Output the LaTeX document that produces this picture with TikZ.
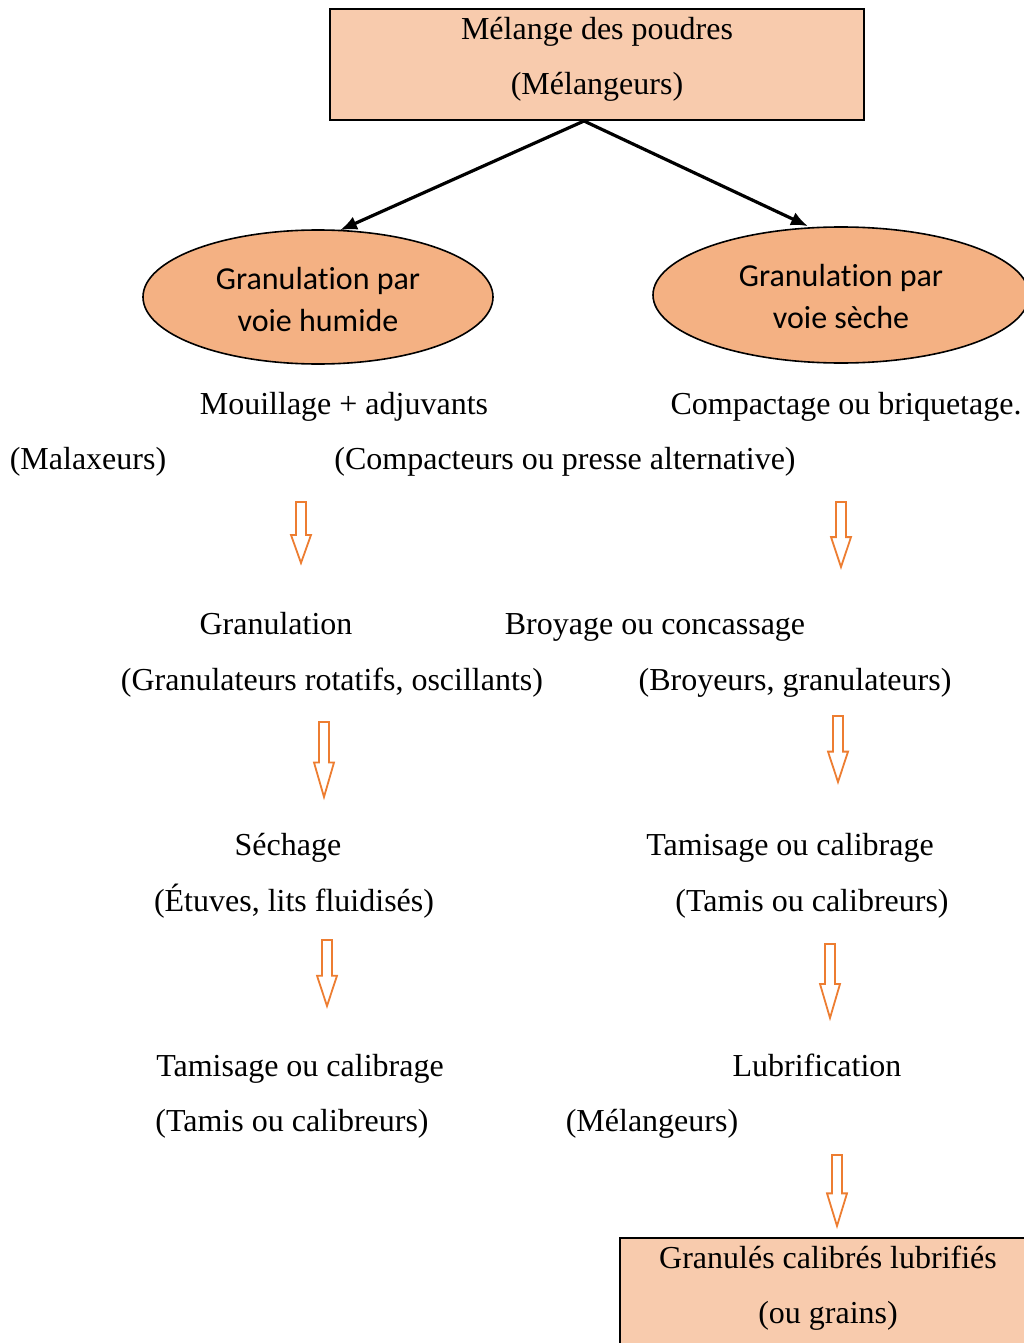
\documentclass[tikz,border=0pt]{standalone}
\usepackage{fontspec}
\setmainfont{Liberation Serif}
\newfontfamily\sansbody[RawFeature={-liga;-clig;-dlig;-calt}]{Carlito}
\usetikzlibrary{calc,shapes.geometric,arrows.meta}
\definecolor{boxfill}{HTML}{F8CBAD}
\definecolor{ellfill}{HTML}{F4B183}
\definecolor{flow}{HTML}{ED7D31}

\tikzset{
  lbl/.style={inner sep=0pt, yshift=-3pt, font=\fontsize{32}{55}\selectfont},
  oneline/.style={inner sep=0pt, yshift=-8pt, font=\fontsize{32}{55}\selectfont,
    text height=0.70em, text depth=0.22em},
  stagebox/.style={draw=black, line width=2pt, fill=boxfill, inner sep=0pt},
  route/.style={ellipse, draw=black, line width=1.6pt, fill=ellfill, inner sep=0pt},
  routetxt/.style={inner sep=0pt, align=center, font=\sansbody\fontsize{32}{42}\selectfont},
  branch/.style={line width=3.2pt, -{Latex[length=17pt,width=14pt]}},
  flowarrow/.style={draw=flow, line width=1.8pt, line join=miter, fill=white}
}

% hollow downward block arrow: x, top y, tip y
\newcommand{\hollowdown}[3]{%
  \pgfmathsetmacro{\hy}{#3-0.46*(#3-#2)}%
  \draw[flowarrow] (#1-5,#2) -- (#1+5,#2) -- (#1+5,\hy) -- (#1+10,\hy)
    -- (#1,#3) -- (#1-10,\hy) -- (#1-5,\hy) -- cycle;%
}

\begin{document}
\begin{tikzpicture}[x=1pt,y=-1pt]
\path[use as bounding box] (0,0) rectangle (1024,1343);
\clip (0,0) rectangle (1024,1343);

% mixing stage
\node[stagebox, minimum width=534pt, minimum height=111pt] (mix) at (597,64.5) {};
\node[lbl, align=center] (mixtxt) at (597,56) {Mélange des poudres\\(Mélangeurs)};

% the two granulation routes
\node[route, minimum width=350pt, minimum height=134pt] (wet) at (318,297) {};
\node[routetxt] (wettxt) at (318,300) {Granulation par\\voie humide};
\node[route, minimum width=376pt, minimum height=136pt] (dry) at (841,295) {};
\node[routetxt] (drytxt) at (841,297) {Granulation par\\voie sèche};

\coordinate (fork) at ($(mix.south)+(-13,0)$);
\draw[branch] (fork) -- ($(wet.north)+(22,1)$);
\draw[branch] (fork) -- ($(dry.north)+(-33,0)$);

% wet route
\node[oneline] (mouil) at (344,404) {Mouillage + adjuvants};
\node[oneline] (malax) at (88,459) {(Malaxeurs)};
\node[oneline] (gran) at (276,624) {Granulation};
\node[oneline] (granm) at (332,680) {(Granulateurs rotatifs, oscillants)};
\node[oneline] (sech) at (288,845) {Séchage};
\node[oneline] (sechm) at (294,901) {(Étuves, lits fluidisés)};
\node[oneline] (tamw) at (300,1066) {Tamisage ou calibrage};
\node[oneline] (tamwm) at (292,1121) {(Tamis ou calibreurs)};

% dry route
\node[oneline] (compa) at (846,404) {Compactage ou briquetage.};
\node[oneline] (compam) at (565,459) {(Compacteurs ou presse alternative)};
\node[oneline] (broy) at (655,624) {Broyage ou concassage};
\node[oneline] (broym) at (795,680) {(Broyeurs, granulateurs)};
\node[oneline] (tamd) at (790,845) {Tamisage ou calibrage};
\node[oneline] (tamdm) at (812,901) {(Tamis ou calibreurs)};
\node[oneline] (lubr) at (817,1066) {Lubrification};
\node[oneline] (lubrm) at (652,1121) {(Mélangeurs)};

% final product
\node[stagebox, minimum width=420pt, minimum height=120pt] (final) at (830,1298) {};
\node[lbl, align=center] (finaltxt) at (828,1285.5) {Granulés calibrés lubrifiés\\(ou grains)};

% step arrows
\hollowdown{301}{502}{563}
\hollowdown{324}{722}{797}
\hollowdown{327}{940}{1006}
\hollowdown{841}{502}{567}
\hollowdown{838}{716}{782}
\hollowdown{830}{944}{1018}
\hollowdown{837}{1155}{1226}
\end{tikzpicture}
\end{document}
